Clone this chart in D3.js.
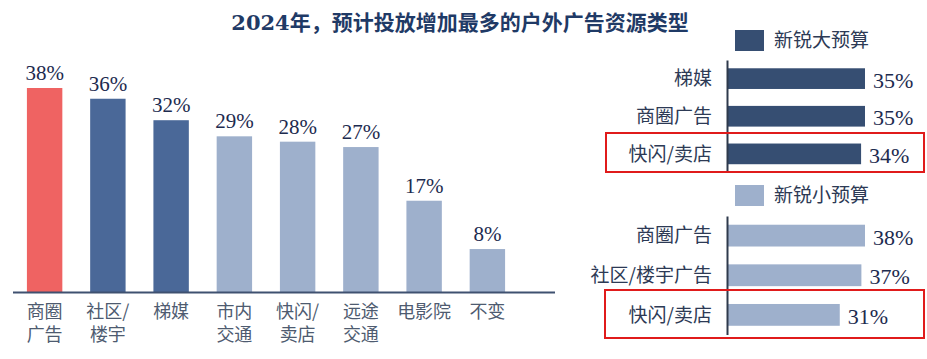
<!DOCTYPE html>
<html><head><meta charset="utf-8">
<script src="https://cdn.jsdelivr.net/npm/d3@7"></script>
<style>body{margin:0;background:#fff;}svg{display:block;}</style>
</head><body><svg id="c" width="927" height="359"></svg>
<script>
const title = "2024年，预计投放增加最多的户外广告资源类型";
const categories = [["商圈","广告"],["社区/","楼宇"],["梯媒"],["市内","交通"],["快闪/","卖店"],["远途","交通"],["电影院"],["不变"]];
const values = [38,36,32,29,28,27,17,8];
const barTone = ["red","dark","dark","light","light","light","light","light"];
const bigLabel = "新锐大预算";
const bigCats = ["梯媒","商圈广告","快闪/卖店"];
const bigVals = [35,35,34];
const smallLabel = "新锐小预算";
const smallCats = ["商圈广告","社区/楼宇广告","快闪/卖店"];
const smallVals = [38,37,31];

const colors = {red:"#ef6362", dark:"#4a6898", light:"#9eb0cc"};
const serif = "'Liberation Serif','Times New Roman',serif";
const cjk = "'Noto Sans CJK SC','Noto Sans',sans-serif";
const svg = d3.select("#c");

// title
const t = svg.append("text").attr("x",460).attr("y",30).attr("text-anchor","middle")
  .attr("fill","#1f3a66").attr("font-weight","bold").attr("font-size",21);
t.append("tspan").attr("font-family","'DejaVu Serif',serif").attr("font-size",21).text(title.slice(0,4));
t.append("tspan").attr("font-family",cjk).text(title.slice(4));

// left chart
const x = d3.scaleBand().domain(d3.range(values.length)).range([13,519]).paddingInner(0.44).paddingOuter(0.22);
const y = d3.scaleLinear().domain([0,38]).range([292,88]);
const g = svg.append("g");
g.selectAll("rect").data(values).join("rect")
  .attr("x",(d,i)=>x(i)).attr("width",x.bandwidth())
  .attr("y",d=>y(d)).attr("height",d=>y(0)-y(d))
  .attr("fill",(d,i)=>colors[barTone[i]]);
g.selectAll("text.v").data(values).join("text").attr("class","v")
  .attr("x",(d,i)=>x(i)+x.bandwidth()/2).attr("y",d=>y(d)-8)
  .attr("text-anchor","middle").attr("font-family",serif).attr("font-size",21)
  .attr("fill","#1d2b4f").text(d=>d+"%");
const xAxis = d3.axisBottom(x).tickSize(0).tickFormat("");
const ax = g.append("g").attr("transform",`translate(0,${y(0)})`).call(xAxis);
ax.select(".domain").remove();
g.append("line").attr("x1",13).attr("x2",555).attr("y1",y(0)+0.5).attr("y2",y(0)+0.5)
  .attr("stroke","#3f5170").attr("stroke-width",2);
categories.forEach((lines,i)=>{
  lines.forEach((l,j)=>g.append("text").attr("text-anchor","middle").attr("font-family",cjk)
    .attr("font-size",18).attr("fill","#4e5b70")
    .attr("x",x(i)+x.bandwidth()/2).attr("y",318+j*23).text(l));
});

// right charts
function hchart(cats, vals, color, top, step, legend, legY){
  const gg = svg.append("g");
  gg.append("rect").attr("x",735).attr("y",legY-10).attr("width",29).attr("height",21).attr("fill",color);
  gg.append("text").attr("x",774).attr("y",legY+7).attr("font-family",cjk).attr("font-size",19)
    .attr("fill","#2d3a55").text(legend);
  const yb = d3.scaleBand().domain(cats).range([top, top+step*cats.length]).paddingInner(0.45).paddingOuter(0.22);
  const xs = d3.scaleLinear().domain([0,d3.max(vals)]).range([728,865]);
  gg.selectAll("rect.b").data(vals).join("rect").attr("class","b")
    .attr("x",xs(0)).attr("y",(d,i)=>yb(cats[i])).attr("height",yb.bandwidth())
    .attr("width",d=>xs(d)-xs(0)).attr("fill",color);
  gg.selectAll("text.v").data(vals).join("text").attr("class","v")
    .attr("x",d=>xs(d)+8).attr("y",(d,i)=>yb(cats[i])+yb.bandwidth()/2+9)
    .attr("font-family",serif).attr("font-size",22).attr("fill","#1d2b4f").text(d=>d+"%");
  const ya = d3.axisLeft(yb).tickSize(0).tickPadding(15);
  const a = gg.append("g").attr("transform","translate(727,0)").call(ya);
  a.select(".domain").attr("stroke","#2f3a4c").attr("stroke-width",2);
  a.selectAll("text").attr("font-family",cjk).attr("font-size",19).attr("fill","#2d3a55").attr("dy","0.35em");
  return {yb};
}
hchart(bigCats, bigVals, "#364e72", 60, 37.5, bigLabel, 40);
hchart(smallCats, smallVals, "#9eb0cc", 216, 39.5, smallLabel, 195);

// red highlight boxes
svg.append("rect").attr("x",606).attr("y",133).attr("width",318).attr("height",39)
  .attr("fill","none").attr("stroke","#e01b1b").attr("stroke-width",2);
svg.append("rect").attr("x",605).attr("y",290).attr("width",319).attr("height",48)
  .attr("fill","none").attr("stroke","#e01b1b").attr("stroke-width",2);
</script></body></html>
